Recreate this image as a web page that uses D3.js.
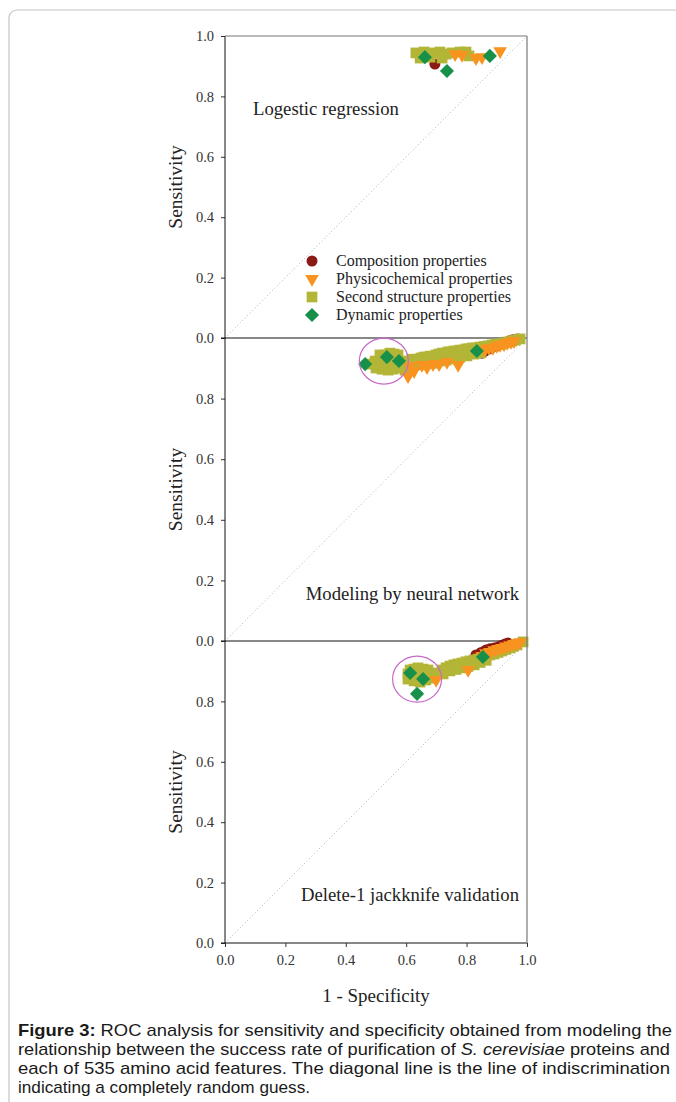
<!DOCTYPE html>
<html><head><meta charset="utf-8">
<script src="https://cdn.jsdelivr.net/npm/d3@7"></script>
<style>
html,body{margin:0;padding:0;background:#fff;}
svg{display:block;}
</style></head>
<body>
<svg id="chart" width="676" height="1102"></svg>
<script>
// ---------- DATA ----------
const seriesNames = ["Composition properties","Physicochemical properties","Second structure properties","Dynamic properties"];
const panelTitles = ["Logestic regression","Modeling by neural network","Delete-1 jackknife validation"];
const xTicks = [0,0.2,0.4,0.6,0.8,1.0];
const yTicks = [0,0.2,0.4,0.6,0.8,1.0];

// Logistic regression panel: [1-specificity, sensitivity]
const lrComposition = [[0.695,0.907]];
const lrPhysico = [[0.762,0.940],[0.785,0.937],[0.831,0.927],[0.851,0.930],[0.911,0.950]];
const lrStructure = [[0.632,0.944],[0.659,0.947],[0.685,0.944],[0.712,0.947],[0.732,0.940],[0.752,0.944],
  [0.778,0.947],[0.798,0.947],[0.808,0.934],[0.646,0.927],[0.679,0.930],[0.719,0.927]];
const lrDynamic = [[0.662,0.930],[0.735,0.884],[0.877,0.934]];

// Neural network panel
const nnComposition = [[0.728,0.937],[0.851,0.950],[0.861,0.957],[0.874,0.964],[0.887,0.970],[0.901,0.974],
  [0.914,0.980],[0.927,0.984],[0.940,0.990],[0.953,0.994],[0.970,0.997]];
const nnPhysico = [[0.606,0.874],[0.626,0.891],[0.613,0.907],[0.669,0.904],[0.709,0.914],[0.772,0.911],
  [0.652,0.911],[0.689,0.914],[0.735,0.921],
  [0.861,0.962],[0.874,0.967],[0.887,0.967],[0.900,0.974],[0.911,0.977],[0.924,0.980],[0.934,0.984],[0.947,0.987],[0.957,0.990]];
const nnStructure = [[0.497,0.924],[0.513,0.944],[0.530,0.944],[0.546,0.950],[0.560,0.947],[0.573,0.944],[0.500,0.901],[0.520,0.897],[0.540,0.894],
  [0.556,0.897],[0.573,0.901],[0.596,0.894],[0.486,0.914],[0.520,0.917],[0.556,0.921],[0.596,0.924],[0.606,0.911],
  [0.619,0.930],[0.629,0.927],[0.639,0.930],[0.649,0.934],[0.659,0.937],[0.669,0.937],[0.679,0.940],[0.689,0.940],
  [0.699,0.944],[0.709,0.947],[0.719,0.950],[0.728,0.950],[0.738,0.954],[0.748,0.954],[0.758,0.957],[0.768,0.957],
  [0.778,0.960],[0.788,0.960],[0.798,0.964],[0.808,0.964],[0.818,0.967],[0.831,0.967],
  [0.844,0.970],[0.858,0.972],[0.871,0.974],[0.884,0.977],[0.897,0.980],[0.911,0.980],[0.924,0.983],[0.937,0.987],
  [0.950,0.990],[0.962,0.993],[0.977,0.997],
  [0.629,0.914],[0.639,0.911],[0.662,0.914],[0.685,0.917],[0.709,0.924],[0.732,0.927],[0.755,0.931],[0.778,0.937],
  [0.801,0.941],[0.825,0.947],[0.848,0.951]];
const nnDynamic = [[0.464,0.914],[0.536,0.937],[0.576,0.924],[0.834,0.957]];

// Delete-1 jackknife panel
const jkComposition = [[0.831,0.954],[0.848,0.962],[0.864,0.970],[0.877,0.974],[0.891,0.977],[0.904,0.980],
  [0.917,0.986],[0.927,0.990],[0.937,0.993]];
const jkPhysico = [[0.699,0.871],[0.805,0.904],[0.851,0.950],[0.864,0.960],[0.877,0.964],[0.891,0.970],[0.904,0.974],
  [0.917,0.977],[0.930,0.982],[0.944,0.986],[0.957,0.990],[0.967,0.993],[0.977,0.996]];
const jkStructure = [[0.613,0.904],[0.626,0.907],[0.639,0.911],[0.656,0.907],[0.672,0.904],[0.606,0.874],[0.626,0.868],
  [0.646,0.864],[0.665,0.871],[0.685,0.877],[0.606,0.891],[0.626,0.887],[0.652,0.887],[0.679,0.891],
  [0.705,0.894],[0.719,0.904],[0.732,0.911],[0.745,0.917],[0.758,0.921],[0.771,0.924],[0.785,0.927],[0.798,0.931],
  [0.811,0.934],[0.825,0.937],[0.838,0.940],[0.851,0.945],[0.864,0.950],[0.877,0.954],
  [0.891,0.957],[0.904,0.962],[0.917,0.967],[0.930,0.972],[0.944,0.977],[0.955,0.982],[0.967,0.987],[0.987,0.997],
  [0.722,0.891],[0.745,0.901],[0.765,0.906],[0.785,0.911],[0.805,0.916],[0.825,0.921],[0.845,0.929],[0.865,0.936]];
const jkDynamic = [[0.613,0.894],[0.656,0.874],[0.636,0.825],[0.854,0.947]];

// highlighted clusters (centres, data units) per panel; null = none
const highlightCentres = [null,[0.526,0.924],[0.636,0.874]];

// ---------- LAYOUT ----------
const svg = d3.select("#chart");
const left = 225, right = 527;
const panelY = [[36,338],[338,641],[641,943]];
const colors = ["#8b1a17","#f7931e","#b3b537","#17904a"];
const serif = "'Liberation Serif','Times New Roman',serif";
const drawOrder = [0,2,1,3];

// outer rounded box
svg.append("rect").attr("x",9).attr("y",10).attr("width",700).attr("height",1120)
  .attr("rx",8).attr("fill","none").attr("stroke","#c4c4c4").attr("stroke-width",1.2);

const x = d3.scaleLinear().domain([0,1]).range([left,right]);

const symbols = [
  d3.symbol().type(d3.symbolCircle).size(95),
  d3.symbol().type(d3.symbolTriangle).size(80),
  d3.symbol().type(d3.symbolSquare).size(115),
  d3.symbol().type(d3.symbolSquare).size(100)
];
const rot = [0,180,0,45];

const panelData = [
  [lrComposition,lrPhysico,lrStructure,lrDynamic],
  [nnComposition,nnPhysico,nnStructure,nnDynamic],
  [jkComposition,jkPhysico,jkStructure,jkDynamic]
];

panelY.forEach((py,i)=>{
  const y = d3.scaleLinear().domain([0,1]).range([py[1],py[0]]);
  const g = svg.append("g");
  // diagonal
  g.append("line").attr("x1",x(0)).attr("y1",y(0)).attr("x2",x(1)).attr("y2",y(1))
    .attr("stroke","#a8a8a8").attr("stroke-width",0.9).attr("stroke-dasharray","1,2.5");
  // y axis
  const tv = i===0 ? yTicks : yTicks.filter(v=>v<1);
  const ax = g.append("g").attr("transform",`translate(${left},0)`)
    .call(d3.axisLeft(y).tickValues(tv).tickFormat(d3.format(".1f")).tickSize(4).tickPadding(7));
  ax.select(".domain").remove();
  ax.selectAll("line").attr("stroke","#333");
  ax.selectAll("text").attr("font-family",serif).attr("font-size",14.5).attr("fill","#333");
  // horizontal baseline
  g.append("line").attr("x1",left-4).attr("x2",right).attr("y1",y(0)).attr("y2",y(0)).attr("stroke","#111").attr("stroke-width",1);
  // y label
  g.append("text").attr("transform",`translate(182,${(py[0]+py[1])/2}) rotate(-90)`)
    .attr("text-anchor","middle").attr("font-family",serif).attr("font-size",19.5).attr("fill","#222").text("Sensitivity");
  // series
  drawOrder.forEach(s=>{
    const arr = panelData[i][s];
    g.append("g").selectAll("path").data(arr).join("path")
      .attr("d",symbols[s]).attr("fill",colors[s])
      .attr("transform",d=>`translate(${x(d[0])},${y(d[1])}) rotate(${rot[s]})`);
  });
  if(highlightCentres[i]){
    const c = highlightCentres[i];
    g.append("ellipse").attr("cx",x(c[0])).attr("cy",y(c[1])).attr("rx",24.5).attr("ry",23)
      .attr("fill","none").attr("stroke","#c86ac8").attr("stroke-width",1.2);
  }
});

// frame: left axis, top, right
svg.append("line").attr("x1",left).attr("x2",left).attr("y1",36).attr("y2",943).attr("stroke","#111");
svg.append("line").attr("x1",left).attr("x2",right).attr("y1",36).attr("y2",36).attr("stroke","#777");
svg.append("line").attr("x1",right).attr("x2",right).attr("y1",36).attr("y2",943).attr("stroke","#777").attr("stroke-width",1.2);

// x axis
const xa = svg.append("g").attr("transform","translate(0,943)")
  .call(d3.axisBottom(x).tickValues(xTicks).tickFormat(d3.format(".1f")).tickSize(4).tickPadding(8));
xa.select(".domain").remove();
xa.selectAll("line").attr("stroke","#333");
xa.selectAll("text").attr("font-family",serif).attr("font-size",14.5).attr("fill","#333");
svg.append("text").attr("x",376).attr("y",1002).attr("text-anchor","middle")
  .attr("font-family",serif).attr("font-size",19).attr("fill","#222").text("1 - Specificity");

// panel titles
const titlePos = [[253,115,"start"],[519,600,"end"],[519,901,"end"]];
panelTitles.forEach((t,i)=>{
  svg.append("text").attr("x",titlePos[i][0]).attr("y",titlePos[i][1]).attr("text-anchor",titlePos[i][2])
    .attr("font-family",serif).attr("font-size",18.7).attr("fill","#222").text(t);
});

// legend
const lg = svg.append("g");
seriesNames.forEach((n,s)=>{
  const yy = 261 + s*18;
  lg.append("path").attr("d",symbols[s]).attr("fill",colors[s]).attr("transform",`translate(312,${yy}) rotate(${rot[s]})`);
  lg.append("text").attr("x",336).attr("y",yy+5).attr("font-family",serif).attr("font-size",16).attr("fill","#222").text(n);
});

// caption
const sans = "'Liberation Sans',Arial,sans-serif";
const cap = svg.append("g").attr("font-family",sans).attr("font-size",17).attr("fill","#1a1a1a");
const l1 = cap.append("text").attr("x",18).attr("y",1036).attr("textLength",654).attr("lengthAdjust","spacingAndGlyphs");
l1.append("tspan").attr("font-weight","bold").text("Figure 3:");
l1.append("tspan").text(" ROC analysis for sensitivity and specificity obtained from modeling the");
const l2 = cap.append("text").attr("x",18).attr("y",1055).attr("textLength",652).attr("lengthAdjust","spacingAndGlyphs");
l2.append("tspan").text("relationship between the success rate of purification of ");
l2.append("tspan").attr("font-style","italic").text("S. cerevisiae");
l2.append("tspan").text(" proteins and");
cap.append("text").attr("x",18).attr("y",1074).attr("textLength",652).attr("lengthAdjust","spacingAndGlyphs")
  .text("each of 535 amino acid features. The diagonal line is the line of indiscrimination");
cap.append("text").attr("x",18).attr("y",1093).attr("textLength",292).attr("lengthAdjust","spacingAndGlyphs")
  .text("indicating a completely random guess.");
</script>
</body></html>
